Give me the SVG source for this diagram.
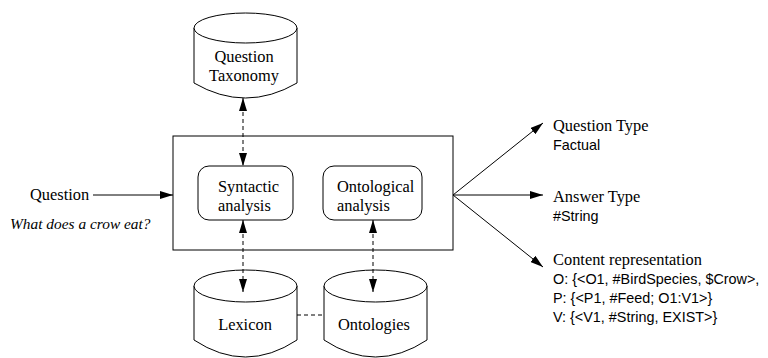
<svg xmlns="http://www.w3.org/2000/svg" width="768" height="358" viewBox="0 0 768 358" font-family="'Liberation Serif', 'Times New Roman', serif" font-size="16.4">
  <style>
    .shape { fill: #fff; stroke: #000; stroke-width: 1; }
    .solid { stroke: #000; stroke-width: 1; fill: none; }
    .dash { stroke: #000; stroke-width: 1; fill: none; stroke-dasharray: 4 3; }
  </style>
  <defs>
    <marker id="head" markerUnits="userSpaceOnUse" markerWidth="14" markerHeight="8" refX="13" refY="4" orient="auto-start-reverse">
      <path d="M0,0 L13,4 L0,8 Z" fill="#000"/>
    </marker>
  </defs>
  <rect width="768" height="358" fill="#fff"/>

  <!-- Question Taxonomy store -->
  <g id="taxonomy">
    <path class="shape" d="M194,28 L194,83 Q245.5,113 297,83 L297,28"/>
    <ellipse class="shape" cx="245.5" cy="28" rx="51.5" ry="15"/>
    <text x="244" y="62" text-anchor="middle">Question</text>
    <text x="244" y="81" text-anchor="middle">Taxonomy</text>
  </g>

  <!-- Analysis module -->
  <g id="module">
    <rect class="shape" x="173" y="136" width="280" height="114"/>
  </g>
  <g id="syntactic">
    <rect class="shape" x="198" y="166" width="95" height="54" rx="11"/>
    <text x="218" y="192">Syntactic</text>
    <text x="218" y="210.5">analysis</text>
  </g>
  <g id="ontological">
    <rect class="shape" x="323" y="166" width="99" height="54" rx="11"/>
    <text x="337" y="192">Ontological</text>
    <text x="337" y="210.5">analysis</text>
  </g>

  <!-- Lexicon store -->
  <g id="lexicon">
    <path class="shape" d="M194,286 L194,340 Q245.5,374 297,340 L297,286"/>
    <ellipse class="shape" cx="245.5" cy="286" rx="51.5" ry="16"/>
    <text x="245" y="330" text-anchor="middle">Lexicon</text>
  </g>

  <!-- Ontologies store -->
  <g id="ontologies">
    <path class="shape" d="M324,286 L324,340 Q375.5,374 427,340 L427,286"/>
    <ellipse class="shape" cx="375.5" cy="286" rx="51.5" ry="16"/>
    <text x="374" y="330" text-anchor="middle">Ontologies</text>
  </g>

  <!-- Input -->
  <g id="input">
    <text x="30" y="200">Question</text>
    <text x="10" y="229" font-style="italic" font-size="15.4">What does a crow eat?</text>
  </g>

  <!-- Outputs -->
  <g id="out-qtype">
    <text x="553" y="131">Question Type</text>
    <text x="553" y="150" font-family="'Liberation Sans', Arial, sans-serif" font-size="14.4">Factual</text>
  </g>
  <g id="out-atype">
    <text x="553" y="202">Answer Type</text>
    <text x="553" y="221" font-family="'Liberation Sans', Arial, sans-serif" font-size="14.4">#String</text>
  </g>
  <g id="out-content">
    <text x="553" y="265">Content representation</text>
    <g font-family="'Liberation Sans', Arial, sans-serif" font-size="14.4">
      <text x="553" y="284">O: {&lt;O1, #BirdSpecies, $Crow&gt;,</text>
      <text x="553" y="303">P: {&lt;P1, #Feed; O1:V1&gt;}</text>
      <text x="553" y="322">V: {&lt;V1, #String, EXIST&gt;}</text>
    </g>
  </g>

  <!-- Connectors -->
  <g id="connectors">
    <line class="solid" x1="93" y1="195" x2="173" y2="195" marker-end="url(#head)"/>
    <line class="solid" x1="453" y1="195" x2="543" y2="123" marker-end="url(#head)"/>
    <line class="solid" x1="453" y1="195" x2="543" y2="195" marker-end="url(#head)"/>
    <line class="solid" x1="453" y1="195" x2="543" y2="267" marker-end="url(#head)"/>
    <line class="dash" x1="243" y1="98" x2="243" y2="166" marker-start="url(#head)" marker-end="url(#head)"/>
    <line class="dash" x1="243" y1="220" x2="243" y2="292" marker-start="url(#head)" marker-end="url(#head)"/>
    <line class="dash" x1="373" y1="220" x2="373" y2="292" marker-start="url(#head)" marker-end="url(#head)"/>
    <line class="dash" x1="297" y1="315" x2="324" y2="315"/>
  </g>
</svg>
